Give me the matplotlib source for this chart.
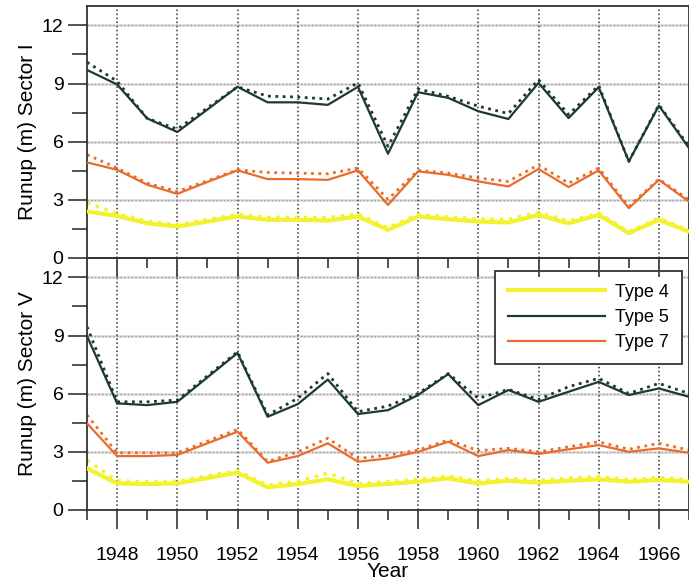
import matplotlib
matplotlib.use("Agg")
import matplotlib.pyplot as plt
import numpy as np
from matplotlib.ticker import MultipleLocator

plt.rcParams['font.family'] = ['Liberation Sans', 'DejaVu Sans']

years = list(range(1947, 1968))

# Sector I
s1_t4 = [2.40, 2.17, 1.79, 1.62, 1.88, 2.14, 1.97, 1.97, 1.93, 2.14, 1.45,
         2.14, 2.00, 1.88, 1.83, 2.22, 1.79, 2.22, 1.28, 1.97, 1.36]
s1_t4d = [2.84, 2.30, 1.90, 1.72, 1.98, 2.25, 2.10, 2.10, 2.08, 2.28, 1.55,
          2.25, 2.12, 2.02, 1.98, 2.36, 1.90, 2.32, 1.34, 2.06, 1.42]
s1_t5 = [9.70, 8.95, 7.20, 6.50, 7.66, 8.83, 8.03, 8.03, 7.90, 8.83, 5.38,
         8.55, 8.26, 7.57, 7.17, 9.03, 7.22, 8.81, 4.98, 7.86, 5.67]
s1_t5d = [10.10, 9.12, 7.20, 6.65, 7.74, 8.83, 8.35, 8.30, 8.20, 9.03, 5.76,
          8.72, 8.34, 7.83, 7.45, 9.20, 7.40, 8.90, 4.98, 7.90, 5.76]
s1_t7 = [4.93, 4.55, 3.78, 3.31, 3.92, 4.52, 4.07, 4.07, 4.03, 4.52, 2.74,
         4.47, 4.29, 3.95, 3.69, 4.59, 3.66, 4.52, 2.57, 4.03, 2.91]
s1_t7d = [5.33, 4.64, 3.86, 3.43, 3.99, 4.55, 4.41, 4.38, 4.34, 4.64, 3.03,
          4.52, 4.38, 4.12, 3.95, 4.81, 3.86, 4.64, 2.66, 4.07, 3.00]

# Sector V
s5_t4 = [2.15, 1.37, 1.34, 1.37, 1.65, 1.92, 1.17, 1.34, 1.58, 1.24, 1.34,
         1.46, 1.63, 1.37, 1.51, 1.41, 1.51, 1.58, 1.46, 1.55, 1.46]
s5_t4d = [2.58, 1.50, 1.46, 1.48, 1.76, 2.02, 1.28, 1.48, 1.90, 1.36, 1.46,
          1.58, 1.74, 1.50, 1.62, 1.52, 1.64, 1.72, 1.56, 1.68, 1.56]
s5_t5 = [8.97, 5.50, 5.41, 5.58, 6.84, 8.10, 4.81, 5.46, 6.73, 4.95, 5.15,
         5.93, 7.01, 5.41, 6.19, 5.58, 6.10, 6.61, 5.93, 6.27, 5.84]
s5_t5d = [9.45, 5.58, 5.58, 5.67, 6.92, 8.16, 4.90, 5.76, 7.04, 5.07, 5.36,
          6.01, 7.04, 5.76, 6.22, 5.70, 6.36, 6.79, 6.01, 6.53, 6.01]
s5_t7 = [4.47, 2.78, 2.78, 2.84, 3.44, 4.04, 2.44, 2.78, 3.44, 2.49, 2.66,
         3.00, 3.52, 2.78, 3.09, 2.89, 3.13, 3.35, 3.00, 3.18, 2.95]
s5_t7d = [4.90, 2.95, 2.95, 2.95, 3.55, 4.16, 2.50, 3.00, 3.70, 2.66, 2.83,
          3.09, 3.61, 3.06, 3.18, 3.00, 3.26, 3.52, 3.13, 3.44, 3.09]

c4 = '#f2f22e'
c5 = '#1d3a2f'
c7 = '#e96c2c'

fig = plt.figure(figsize=(6.89, 5.87), dpi=100)
# bottom panel first so the top panel's x ticks can hang over it
ax2 = fig.add_axes([0.1263, 0.1312, 0.8737, 0.4293])
ax1 = fig.add_axes([0.1263, 0.5605, 0.8737, 0.4293])
ax1.set_zorder(2)

panels = [
    (ax1, s1_t4, s1_t4d, s1_t5, s1_t5d, s1_t7, s1_t7d, 'Runup (m) Sector I'),
    (ax2, s5_t4, s5_t4d, s5_t5, s5_t5d, s5_t7, s5_t7d, 'Runup (m) Sector V'),
]

for ax, t4, t4d, t5, t5d, t7, t7d, lab in panels:
    ax.set_xlim(1947, 1967)
    ax.set_ylim(0, 13)
    for yv in [3, 6, 9, 12]:
        ax.axhline(yv, color='#dcdcdc', lw=1.8, zorder=0)
    ax.xaxis.set_major_locator(MultipleLocator(2))
    ax.xaxis.set_minor_locator(MultipleLocator(1))
    ax.yaxis.set_major_locator(MultipleLocator(3))
    ax.yaxis.set_minor_locator(MultipleLocator(1.5))
    ax.grid(True, which='major', axis='x', color='#333333', ls=':', lw=1.1, zorder=0)
    ax.grid(True, which='major', axis='y', color='#999999', ls=':', lw=1.0, zorder=0)

    ax.plot(years, t4d, color=c4, ls=':', lw=2.5, zorder=2)
    ax.plot(years, t4, color=c4, lw=3.0, zorder=3, label='Type 4')
    ax.plot(years, t5d, color=c5, ls=':', lw=2.0, zorder=2)
    ax.plot(years, t5, color=c5, lw=1.6, zorder=3, label='Type 5')
    ax.plot(years, t7d, color=c7, ls=':', lw=2.0, zorder=2)
    ax.plot(years, t7, color=c7, lw=1.6, zorder=3, label='Type 7')

    ax.set_ylabel(lab, fontsize=15, labelpad=3)
    ax.tick_params(axis='both', which='major', direction='out', length=14,
                   width=1.3, color='#444444', labelsize=14, pad=3)
    ax.tick_params(axis='y', which='minor', direction='out', length=11,
                   width=1.3, color='#444444')
    ax.tick_params(axis='x', which='minor', direction='out', length=7,
                   width=1.3, color='#444444')
    for sp in ax.spines.values():
        sp.set_color('#333333')
        sp.set_linewidth(1.3)
    ax.set_yticks([0, 3, 6, 9, 12])

ax1.set_facecolor('none')
ax1.tick_params(axis='x', labelbottom=False)
ax2.set_xticks(range(1948, 1967, 2))
ax2.set_xlabel('Year', fontsize=15, labelpad=-2)
ax2.tick_params(axis='x', pad=13)

leg = ax2.legend(loc='upper right', bbox_to_anchor=(0.988, 0.948), fontsize=13,
                 handlelength=5.4, handletextpad=0.55, labelspacing=0.45,
                 fancybox=False, framealpha=1, edgecolor='#333333',
                 borderpad=0.7, borderaxespad=0)
leg.get_frame().set_linewidth(1.3)

fig.savefig('out.png', dpi=100)
